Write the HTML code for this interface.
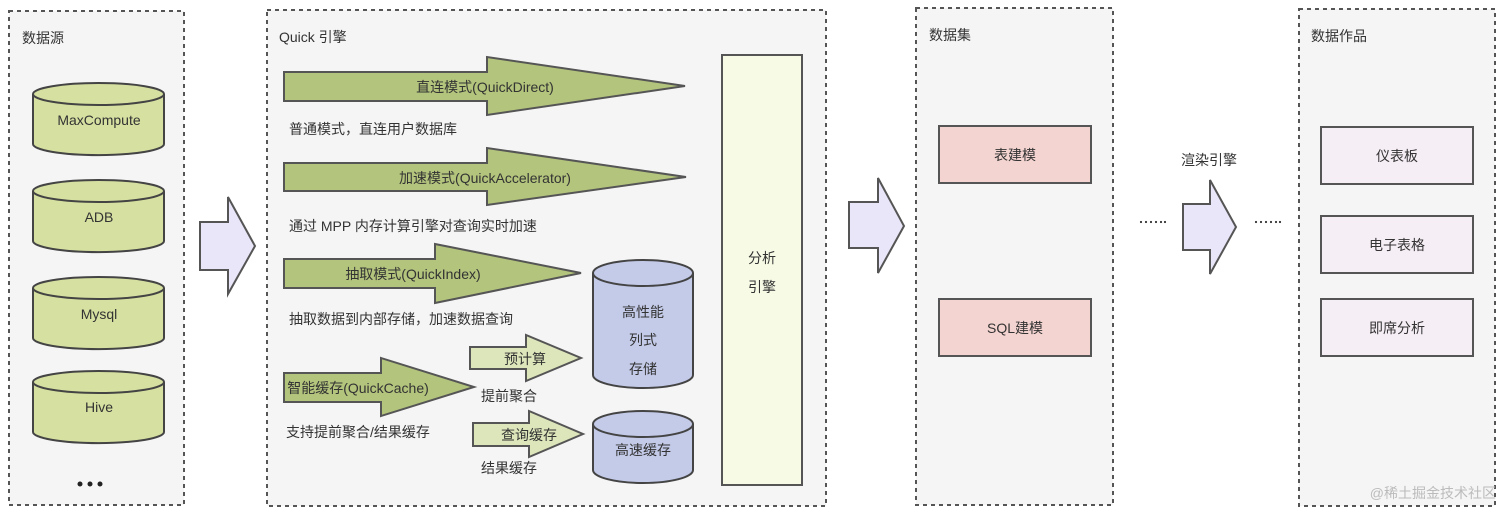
<!DOCTYPE html>
<html><head><meta charset="utf-8"><style>
html,body{margin:0;padding:0;background:#fff;}
svg{display:block;font-family:"Liberation Sans","Noto Sans CJK SC",sans-serif;}
text{fill:#333;font-size:14px;}
</style></head><body>
<svg width="1512" height="518" viewBox="0 0 1512 518" xmlns="http://www.w3.org/2000/svg">
<g fill="#f5f5f5" stroke="#555" stroke-width="2" stroke-dasharray="4,4">
<rect x="9" y="11" width="175" height="494"/>
<rect x="267" y="10" width="559" height="496"/>
<rect x="916" y="8" width="197" height="497"/>
<rect x="1299" y="9" width="196" height="497"/>
</g>
<text x="22" y="43" font-size="16">数据源</text>
<text x="279" y="42" font-size="16">Quick 引擎</text>
<text x="929" y="40" font-size="16">数据集</text>
<text x="1311" y="41" font-size="16">数据作品</text>

<g stroke="#444" stroke-width="2" fill="#d6e0a0">
<path d="M33 94 v50 a65 11 0 0 0 131 0 v-50"/><ellipse cx="98.5" cy="94" rx="65.5" ry="11"/>
<path d="M33 191 v50 a65 11 0 0 0 131 0 v-50"/><ellipse cx="98.5" cy="191" rx="65.5" ry="11"/>
<path d="M33 288 v50 a65 11 0 0 0 131 0 v-50"/><ellipse cx="98.5" cy="288" rx="65.5" ry="11"/>
<path d="M33 382 v50 a65 11 0 0 0 131 0 v-50"/><ellipse cx="98.5" cy="382" rx="65.5" ry="11"/>
</g>
<g text-anchor="middle">
<text x="99" y="125">MaxCompute</text>
<text x="99" y="222">ADB</text>
<text x="99" y="319">Mysql</text>
<text x="99" y="412">Hive</text>
</g>
<g fill="#222"><circle cx="80" cy="484" r="2.5"/><circle cx="90" cy="484" r="2.5"/><circle cx="100" cy="484" r="2.5"/></g>

<g fill="#eae6f9" stroke="#555" stroke-width="2">
<polygon points="200,222 228,222 228,197 255,246 228,294 228,270 200,270"/>
<polygon points="849,202 878,202 878,178 904,226 878,273 878,248 849,248"/>
<polygon points="1183,204 1210,204 1210,180 1236,227 1210,274 1210,250 1183,250"/>
</g>

<g fill="#b3c47c" stroke="#555" stroke-width="2">
<polygon points="284,72 487,72 487,57 685,86 487,115 487,101 284,101"/>
<polygon points="284,163 487,163 487,148 686,177 487,205 487,191 284,191"/>
<polygon points="284,259 435,259 435,244 581,273 435,303 435,288 284,288"/>
<polygon points="284,373 381,373 381,358 474,387 381,416 381,402 284,402"/>
</g>
<g fill="#dde6bb" stroke="#555" stroke-width="2">
<polygon points="470,347 526,347 526,335 581,358 526,381 526,369 470,369"/>
<polygon points="473,423 529,423 529,411 583,434 529,457 529,446 473,446"/>
</g>
<g text-anchor="middle">
<text x="485" y="92">直连模式(QuickDirect)</text>
<text x="485" y="183">加速模式(QuickAccelerator)</text>
<text x="413" y="279">抽取模式(QuickIndex)</text>
<text x="358" y="393">智能缓存(QuickCache)</text>
<text x="525" y="364">预计算</text>
<text x="529" y="440">查询缓存</text>
</g>
<text x="289" y="134">普通模式，直连用户数据库</text>
<text x="289" y="231">通过 MPP 内存计算引擎对查询实时加速</text>
<text x="289" y="324">抽取数据到内部存储，加速数据查询</text>
<text x="286" y="437">支持提前聚合/结果缓存</text>
<text x="481" y="401">提前聚合</text>
<text x="481" y="473">结果缓存</text>

<g stroke="#444" stroke-width="2" fill="#c4cbe9">
<path d="M593 273 v102 a50 13 0 0 0 100 0 v-102"/><ellipse cx="643" cy="273" rx="50" ry="13"/>
<path d="M593 424 v46 a50 13 0 0 0 100 0 v-46"/><ellipse cx="643" cy="424" rx="50" ry="13"/>
</g>
<g text-anchor="middle">
<text x="643" y="317">高性能</text>
<text x="643" y="345">列式</text>
<text x="643" y="374">存储</text>
<text x="643" y="455">高速缓存</text>
</g>

<rect x="722" y="55" width="80" height="430" fill="#f7fbe6" stroke="#555" stroke-width="2"/>
<text x="762" y="263" text-anchor="middle">分析</text>
<text x="762" y="292" text-anchor="middle">引擎</text>

<g fill="#f4d4d0" stroke="#555" stroke-width="2">
<rect x="939" y="126" width="152" height="57"/>
<rect x="939" y="299" width="152" height="57"/>
</g>
<text x="1015" y="160" text-anchor="middle">表建模</text>
<text x="1015" y="333" text-anchor="middle">SQL建模</text>

<text x="1209" y="165" text-anchor="middle" font-size="16">渲染引擎</text>
<g fill="#333">
<circle cx="1141" cy="222" r="1.1"/><circle cx="1146" cy="222" r="1.1"/><circle cx="1151" cy="222" r="1.1"/><circle cx="1156" cy="222" r="1.1"/><circle cx="1161" cy="222" r="1.1"/><circle cx="1165" cy="222" r="1.1"/>
<circle cx="1256" cy="222" r="1.1"/><circle cx="1261" cy="222" r="1.1"/><circle cx="1266" cy="222" r="1.1"/><circle cx="1271" cy="222" r="1.1"/><circle cx="1276" cy="222" r="1.1"/><circle cx="1280" cy="222" r="1.1"/>
</g>

<g fill="#f6eef5" stroke="#555" stroke-width="2">
<rect x="1321" y="127" width="152" height="57"/>
<rect x="1321" y="216" width="152" height="57"/>
<rect x="1321" y="299" width="152" height="57"/>
</g>
<g text-anchor="middle">
<text x="1397" y="161">仪表板</text>
<text x="1397" y="250">电子表格</text>
<text x="1397" y="333">即席分析</text>
</g>
<text x="1496" y="498" text-anchor="end" font-size="16" style="fill:#bbb">@稀土掘金技术社区</text>
</svg>
</body></html>
